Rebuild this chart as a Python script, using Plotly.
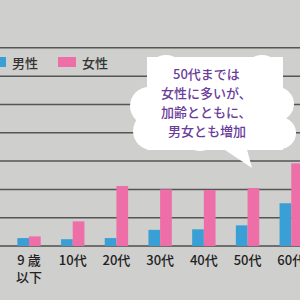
import plotly.graph_objects as go

categories = ["総数", "9 歳<br>以下", "10代", "20代", "30代", "40代", "50代", "60代"]
male = [8.5, 2.8, 2.4, 2.8, 5.7, 5.9, 7.3, 15.1]
female = [25.1, 3.4, 8.7, 21.2, 20.0, 19.8, 20.5, 29.2]
grid_vals = [10, 20, 30, 40, 50, 60, 70]
series_names = ["男性", "女性"]
note_lines = ["50代までは", "女性に多いが、", "加齢とともに、", "男女とも増加"]

BLUE = "#3a9fd4"
PINK = "#ee6ea7"
BG = "#cfcfcd"
W, PH = 300, 246  # plot area pixel size


def px(x):
    return x / W


def py(y):
    return (PH - y) / PH


fig = go.Figure()
fig.add_trace(go.Bar(x=categories, y=male, name=series_names[0], marker_color=BLUE, marker_line_width=0))
fig.add_trace(go.Bar(x=categories, y=female, name=series_names[1], marker_color=PINK, marker_line_width=0))

shapes = []
# gridlines
for g in grid_vals:
    shapes.append(dict(type="line", xref="paper", yref="y", x0=0, x1=1, y0=g, y1=g,
                       line=dict(color="#555555", width=1.5), layer="below"))
# speech bubble (cloud)
white = dict(fillcolor="white", line=dict(width=0), layer="above", xref="paper", yref="paper")
shapes.append(dict(type="rect", x0=px(147), x1=px(283), y0=py(150), y1=py(57), **white))
for cx, cy, r in [(166, 73, 18), (262, 73, 18), (277, 104, 17), (280, 133, 16),
                  (149, 106, 19), (152, 131, 19), (200, 134, 17), (250, 134, 16)]:
    shapes.append(dict(type="circle", x0=px(cx - r), x1=px(cx + r), y0=py(cy + r), y1=py(cy - r), **white))
shapes.append(dict(type="path",
                   path=f"M {px(222)} {py(148)} L {px(252)} {py(168)} L {px(246)} {py(146)} Z", **white))
# legend swatches
shapes.append(dict(type="rect", x0=px(-12), x1=px(6), y0=py(67), y1=py(57), fillcolor=BLUE,
                   line=dict(width=0), xref="paper", yref="paper"))
shapes.append(dict(type="rect", x0=px(58), x1=px(76), y0=py(67), y1=py(57), fillcolor=PINK,
                   line=dict(width=0), xref="paper", yref="paper"))

annotations = [
    dict(x=px(10), y=py(62), xref="paper", yref="paper", text=series_names[0], showarrow=False,
         xanchor="left", yanchor="middle", font=dict(size=13, color="#333333", weight=500)),
    dict(x=px(80), y=py(62), xref="paper", yref="paper", text=series_names[1], showarrow=False,
         xanchor="left", yanchor="middle", font=dict(size=13, color="#333333", weight=500)),
]
for i, line in enumerate(note_lines):
    annotations.append(dict(x=px(207), y=py(73 + i * 19.3), xref="paper", yref="paper", text=line,
                            showarrow=False, xanchor="center", yanchor="middle",
                            font=dict(size=13, color="#6a3d9a", family="Noto Sans CJK JP", weight=500)))

fig.update_layout(
    width=300, height=300,
    margin=dict(l=0, r=0, t=0, b=54, autoexpand=False),
    paper_bgcolor=BG, plot_bgcolor=BG,
    barmode="group", bargap=0.465, bargroupgap=0,
    showlegend=False,
    shapes=shapes, annotations=annotations,
    font=dict(family="Noto Sans CJK JP", size=13, color="#222222"),
    xaxis=dict(type="category", range=[0.336, 7.2], showgrid=False, zeroline=False,
               showline=False, ticks="", tickfont=dict(size=13, color="#222222", weight=500),
               ticklabelstandoff=5, automargin=False),
    yaxis=dict(range=[0, 86.9], showticklabels=False, showgrid=False,
               zeroline=True, zerolinecolor="#6e6e6e",
               zerolinewidth=2, showline=False, automargin=False),
)

fig.write_html("out.html")
